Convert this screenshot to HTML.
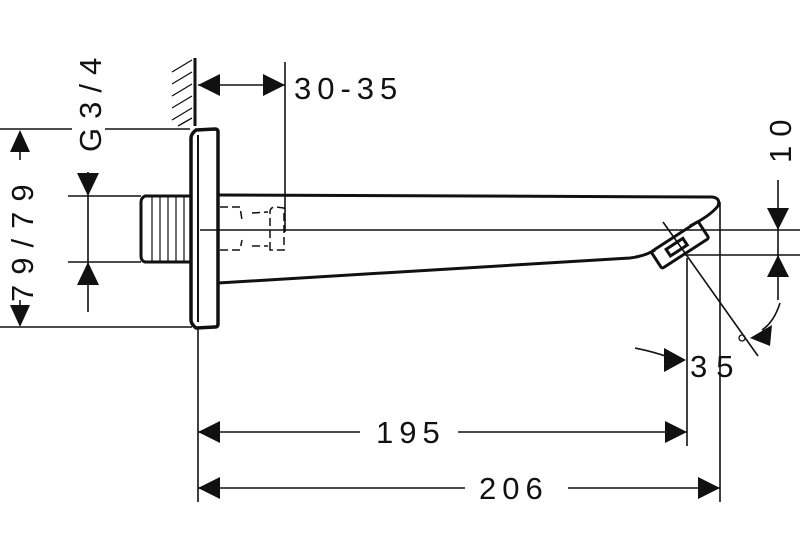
<!DOCTYPE html>
<html><head><style>
html,body{margin:0;padding:0;background:#fff;}
svg{display:block;}
text{font-family:"Liberation Sans",sans-serif;font-size:31px;fill:#111;stroke:none;letter-spacing:6px;}
</style></head><body>
<svg width="800" height="557" viewBox="0 0 800 557" xmlns="http://www.w3.org/2000/svg" stroke="#111" fill="none" stroke-width="1.6">
<!-- wall -->
<line x1="195" y1="58" x2="195" y2="126" stroke-width="3"/>
<g stroke-width="1.3">
<line x1="172" y1="72" x2="192" y2="60"/><line x1="172" y1="84" x2="192" y2="72"/>
<line x1="172" y1="96" x2="192" y2="84"/><line x1="172" y1="108" x2="192" y2="96"/>
<line x1="172" y1="120" x2="192" y2="108"/><line x1="178" y1="126" x2="192" y2="118"/>
</g>
<!-- flange -->
<path d="M196 130 L215 129 Q218 129 218 132 L218 324 Q218 327 215 327 L196 328 Q191 324 191 320 L191 138 Q191 134 196 130 Z" stroke-width="3.5"/>
<line x1="198" y1="135" x2="198" y2="322" stroke-width="2"/>
<!-- thread -->
<path d="M191 196 L145 196 Q141 198 141 202 L141 256 Q141 261 145 262 L191 262" stroke-width="3"/>
<g stroke-width="1.2"><line x1="152" y1="197" x2="152" y2="261"/><line x1="160" y1="197" x2="160" y2="261"/><line x1="168" y1="197" x2="168" y2="261"/><line x1="176" y1="197" x2="176" y2="261"/><line x1="184" y1="197" x2="184" y2="261"/></g>
<!-- spout -->
<path d="M218 195 L712 197 Q721 198 718 206 Q710 216 690 226" stroke-width="3"/>
<path d="M218 283 L630 258 Q645 256 655 250" stroke-width="3"/>
<g transform="translate(680 245) rotate(-33)" stroke-width="3">
<rect x="-28" y="-10" width="56" height="20" rx="2"/>
<rect x="-14" y="-4" width="20" height="8"/>
</g>
<!-- internal dashed -->
<g stroke-width="1.5" stroke-dasharray="8 4">
<path d="M220 207 L240 207 L242 220"/><path d="M220 250 L240 250 L242 240"/>
<line x1="252" y1="213" x2="268" y2="212"/><line x1="252" y1="246" x2="268" y2="246"/>
<path d="M270 250 L270 212 Q270 207 276 207 L284 208 L284 250 Z"/>
</g>
<!-- center lines -->
<line x1="200" y1="230" x2="800" y2="230" stroke-width="1.4"/>
<line x1="685" y1="255" x2="800" y2="255" stroke-width="1.4"/>
<!-- 79/79 dim -->
<line x1="0" y1="129" x2="72" y2="129"/><line x1="105" y1="129" x2="190" y2="129"/>
<line x1="0" y1="327" x2="192" y2="327"/>
<line x1="20" y1="150" x2="20" y2="160"/><line x1="20" y1="300" x2="20" y2="306"/>
<path d="M20 130 L30 152 L10 152 Z M20 327 L30 305 L10 305 Z" fill="#111" stroke="none"/>
<text transform="translate(33 302) rotate(-90)" style="letter-spacing:10px">79/79</text>
<!-- G3/4 dim -->
<line x1="68" y1="196" x2="141" y2="196"/><line x1="68" y1="262" x2="141" y2="262"/>
<line x1="88" y1="172" x2="88" y2="312"/>
<path d="M88 196 L99 173 L77 173 Z M88 262 L99 285 L77 285 Z" fill="#111" stroke="none"/>
<text transform="translate(101 152) rotate(-90)" style="letter-spacing:9px">G3/4</text>
<!-- 30-35 -->
<line x1="198" y1="85" x2="285" y2="85"/>
<line x1="285" y1="62" x2="285" y2="232"/>
<path d="M198 85 L220 74 L220 96 Z M285 85 L263 74 L263 96 Z" fill="#111" stroke="none"/>
<text x="294" y="99">30-35</text>
<!-- 10 -->
<line x1="778" y1="180" x2="778" y2="300"/>
<path d="M778 230 L767 208 L789 208 Z M778 255 L767 277 L789 277 Z" fill="#111" stroke="none"/>
<text transform="translate(791 163) rotate(-90)" style="letter-spacing:9px">10</text>
<!-- angle -->
<path d="M780 303 Q774 322 762 330" />
<path d="M750 338 L772 325 L770 346 Z" fill="#111" stroke="none"/>
<line x1="663" y1="222" x2="758" y2="356"/>
<path d="M635 348 Q655 352 668 357"/>
<path d="M686 360 L664 348 L664 372 Z" fill="#111" stroke="none"/>
<text x="690" y="377" style="letter-spacing:9px">35</text>
<circle cx="742" cy="338" r="3" stroke-width="1.3"/>
<!-- verticals -->
<line x1="198" y1="328" x2="198" y2="502"/>
<line x1="687" y1="258" x2="687" y2="446"/>
<line x1="720" y1="202" x2="720" y2="502"/>
<!-- 195 -->
<line x1="198" y1="432" x2="360" y2="432"/><line x1="458" y1="432" x2="687" y2="432"/>
<path d="M198 432 L220 421 L220 443 Z M687 432 L665 421 L665 443 Z" fill="#111" stroke="none"/>
<text x="376" y="443">195</text>
<!-- 206 -->
<line x1="198" y1="488" x2="465" y2="488"/><line x1="568" y1="488" x2="720" y2="488"/>
<path d="M198 488 L220 477 L220 499 Z M720 488 L698 477 L698 499 Z" fill="#111" stroke="none"/>
<text x="479" y="499">206</text>
</svg>
</body></html>
